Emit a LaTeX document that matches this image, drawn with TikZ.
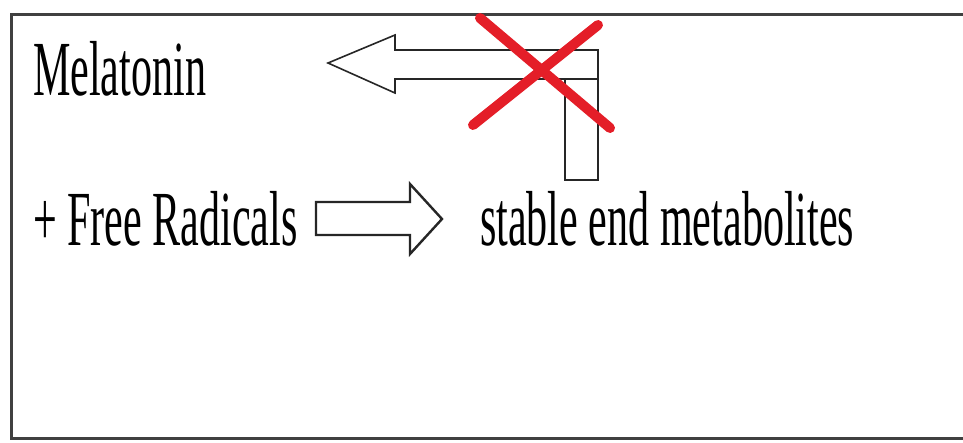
\documentclass[tikz,border=0pt]{standalone}
\usepackage{fontspec}
\newfontfamily\narrowserif[FakeStretch=0.54]{Liberation Serif}

\begin{document}
\begin{tikzpicture}[x=1pt,y=-1pt,
    txt/.style = {anchor=base west,inner sep=0pt,outer sep=0pt,font=\narrowserif\fontsize{78}{78}\selectfont},
    frame/.style = {draw=black!75,line width=3pt},
    blockarrow/.style = {draw=black!85,line width=1.6pt,line join=miter,fill=white},
    cross/.style = {draw={rgb,255:red,228;green,30;blue,40},line width=10pt,line cap=round}]
    \useasboundingbox (0,0) rectangle (963,442);
    \draw[frame] (963,14) -- (11,14) -- (11,438) -- (963,438);
    \node[txt] (mel) at (33,95) {Melatonin};
    \node[txt] (rad) at (33,245) {+ Free Radicals};
    \node[txt] (met) at (480,245) {stable end metabolites};
    % bent arrow back to melatonin
    \draw[blockarrow] (598,50) -- (395,50) -- (395,35) -- (328,63) -- (395,93) -- (395,79) -- (598,79) -- cycle;
    \draw[blockarrow] (565,79) rectangle (598,180);
    \draw[cross] (480,18) -- (610,128);
    \draw[cross] (598,25) -- (473,125);
    % forward arrow
    \draw[blockarrow,line width=2.4pt] (316,202) -- (410,202) -- (410,184) -- (442,219) -- (410,254) -- (410,235) -- (316,235) -- cycle;
\end{tikzpicture}
\end{document}
